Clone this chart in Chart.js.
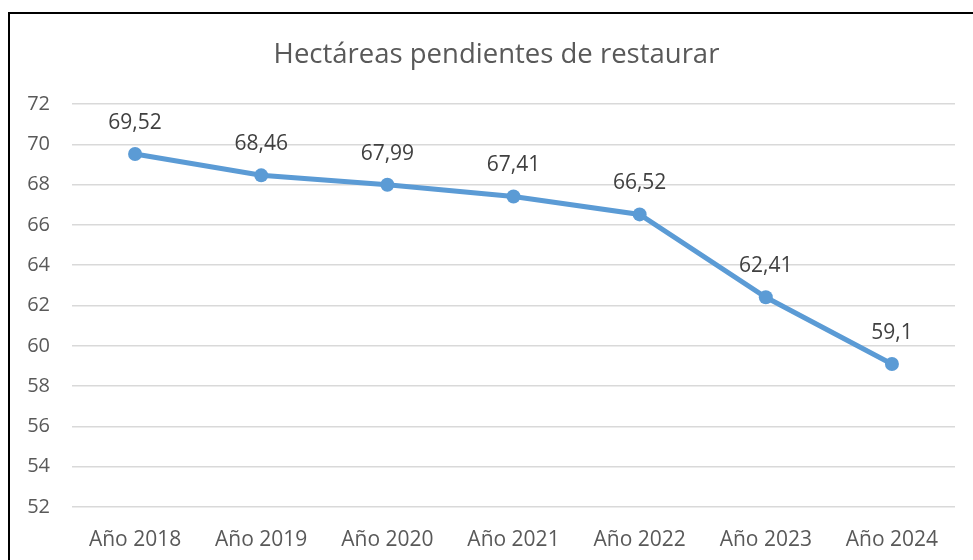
<!DOCTYPE html>
<html>
<head>
<meta charset="utf-8">
<script src="https://cdn.jsdelivr.net/npm/chart.js@4/dist/chart.umd.min.js"></script>
<style>
  html, body { margin: 0; padding: 0; background: #fff; overflow: hidden; }
  #wrap { position: relative; width: 973px; height: 560px; }
  #frame {
    position: absolute; left: 8px; top: 12px; width: 1000px; height: 600px;
    border: 2px solid #000; box-sizing: border-box; pointer-events: none;
  }
</style>
</head>
<body>
<div id="wrap">
  <canvas id="chart" width="973" height="560"></canvas>
  <div id="frame"></div>
</div>
<script>
// data
const years = ['Año 2018', 'Año 2019', 'Año 2020', 'Año 2021', 'Año 2022', 'Año 2023', 'Año 2024'];
const hectareas = [69.52, 68.46, 67.99, 67.41, 66.52, 62.41, 59.1];
const yTicks = [52, 54, 56, 58, 60, 62, 64, 66, 68, 70, 72];

const FONT = "'Open Sans', 'Liberation Sans', sans-serif";
const BLUE = '#5b9bd5';

/** value labels above each point, comma as decimal separator */
const pointLabels = {
  id: 'pointLabels',
  afterDatasetsDraw(chart) {
    const ctx = chart.ctx;
    const meta = chart.getDatasetMeta(0);
    ctx.save();
    ctx.font = '21px ' + FONT;
    ctx.fillStyle = '#404040';
    ctx.textAlign = 'center';
    ctx.textBaseline = 'middle';
    meta.data.forEach((pt, i) => {
      const txt = String(hectareas[i]).replace('.', ',');
      ctx.fillText(txt, pt.x, pt.y - 31);
    });
    ctx.restore();
  },
};

new Chart(document.getElementById('chart'), {
  type: 'line',
  data: {
    labels: years,
    datasets: [{
      data: hectareas,
      borderColor: BLUE,
      backgroundColor: BLUE,
      borderWidth: 5,
      pointRadius: 7,
      pointBackgroundColor: BLUE,
      pointBorderWidth: 0,
      tension: 0,
    }],
  },
  options: {
    responsive: false,
    animation: false,
    // left padding + empty right axis keep the title centred on the frame
    layout: { padding: { left: 20, right: 0, top: 0, bottom: 0 } },
    plugins: {
      legend: { display: false },
      tooltip: { enabled: false },
      title: {
        display: true,
        text: 'Hectáreas pendientes de restaurar',
        color: '#595959',
        font: { family: FONT, size: 27.5, weight: 'normal', lineHeight: 1.2 },
        padding: { top: 39, bottom: 32 },
      },
    },
    scales: {
      x: {
        offset: true,
        grid: { display: false, drawTicks: false },
        border: { display: false },
        ticks: {
          color: '#595959',
          padding: 20,
          maxRotation: 0,
          font: { family: FONT, size: 21 },
        },
        afterFit(scale) { scale.height = 53; },
      },
      y: {
        min: 52,
        max: 72,
        afterBuildTicks(scale) { scale.ticks = yTicks.map(v => ({ value: v })); },
        grid: { color: '#d9d9d9', lineWidth: 1.5, drawTicks: false },
        border: { display: false },
        ticks: {
          color: '#595959',
          padding: 22,
          font: { family: FONT, size: 20 },
        },
        afterFit(scale) { scale.width = 52; },
      },
      yRight: {
        position: 'right',
        min: 52,
        max: 72,
        grid: { display: false, drawTicks: false },
        border: { display: false },
        ticks: { display: false },
        afterFit(scale) { scale.width = 18; },
      },
    },
  },
  plugins: [pointLabels],
});
</script>
</body>
</html>
